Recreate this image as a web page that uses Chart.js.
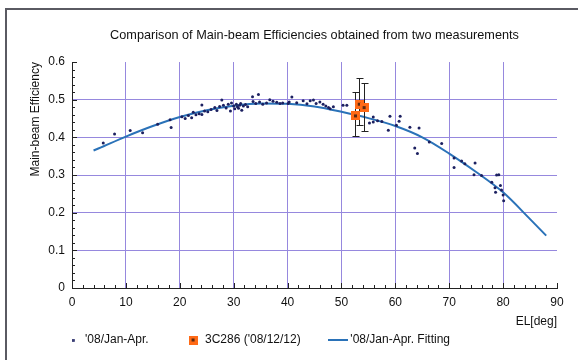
<!DOCTYPE html>
<html>
<head>
<meta charset="utf-8">
<script src="https://cdn.jsdelivr.net/npm/chart.js@4/dist/chart.umd.min.js"></script>
<style>
  body { margin: 0; background: #fff; }
  #wrap { position: relative; width: 578px; height: 360px; overflow: hidden; }
  #frame { position: absolute; left: 5px; top: 8px; width: 700px; height: 500px; border: 2px solid #5a5a62; }
  #chart { position: absolute; left: 0; top: 0; }
</style>
</head>
<body>
<div id="wrap">
  <div id="frame"></div>
  <canvas id="chart" width="578" height="360"></canvas>
</div>
<script>
// '08/Jan-Apr. measurements (EL in deg, efficiency)
var measEl = [5.8, 7.9, 10.8, 13.1, 15.9, 18.4, 18.2, 20.4, 21.0, 21.6, 22.2, 22.5, 23.0, 23.6, 24.1, 24.1,
  24.6, 25.2, 25.8, 26.5, 26.9, 27.4, 27.8, 28.1, 28.6, 29.0, 29.4, 29.6, 30.0, 30.2, 30.5, 30.7,
  30.9, 31.1, 31.3, 31.5, 31.8, 32.2, 32.6, 33.5, 33.6, 34.1, 34.6, 34.8, 35.4, 36.1, 36.7, 37.3,
  38.0, 38.6, 39.1, 40.1, 40.3, 40.8, 41.7, 42.9, 43.6, 44.2, 44.8, 45.3, 46.0, 46.6, 47.1, 47.6,
  47.9, 48.5, 50.3, 51.0, 55.2, 55.9, 55.9, 56.7, 57.5, 59.0, 58.7, 60.7, 60.9, 60.2, 62.7, 64.4,
  63.6, 64.1, 66.3, 68.6, 70.9, 70.9, 72.3, 72.9, 74.8, 74.6, 76.0, 77.9, 78.8, 79.2, 78.5, 79.7,
  78.6, 80.0, 80.1, 79.5];
var measEff = [0.385, 0.409, 0.418, 0.412, 0.435, 0.426, 0.447, 0.455, 0.450, 0.458, 0.452, 0.467, 0.460, 0.463, 0.486, 0.461,
  0.470, 0.468, 0.474, 0.479, 0.471, 0.482, 0.499, 0.485, 0.478, 0.488, 0.470, 0.491, 0.483, 0.476, 0.488, 0.481,
  0.477, 0.485, 0.490, 0.472, 0.483, 0.487, 0.481, 0.508, 0.495, 0.490, 0.514, 0.494, 0.488, 0.491, 0.500, 0.496,
  0.493, 0.490, 0.491, 0.490, 0.494, 0.507, 0.492, 0.497, 0.489, 0.497, 0.499, 0.490, 0.494, 0.488, 0.483, 0.479,
  0.476, 0.481, 0.485, 0.485, 0.438, 0.454, 0.441, 0.444, 0.442, 0.456, 0.419, 0.443, 0.456, 0.432, 0.427, 0.425,
  0.372, 0.357, 0.388, 0.384, 0.345, 0.320, 0.337, 0.330, 0.332, 0.301, 0.299, 0.281, 0.300, 0.301, 0.266, 0.260,
  0.254, 0.247, 0.232, 0.272];

// 3C286 ('08/12/12) with error bars
var srcEl = [52.6, 53.3, 54.2];
var srcEff = [0.457, 0.488, 0.479];
var srcLow = [0.403, 0.432, 0.416];
var srcHigh = [0.521, 0.557, 0.545];

// fitting curve
var fitEl = [4, 5, 10, 15, 20, 25, 30, 35, 40, 45, 50, 55, 60, 65, 70, 75, 80, 85, 88];
var fitEff = [0.365, 0.371, 0.402, 0.430, 0.454, 0.472, 0.484, 0.490, 0.489, 0.482, 0.468, 0.451, 0.430, 0.400, 0.357, 0.308, 0.254, 0.183, 0.139];

var labels = ["'08/Jan-Apr.", "3C286 ('08/12/12)", "'08/Jan-Apr. Fitting"];
var legendGap = [10, 8, 0];   // extra spaces after each legend entry

var gridColor = 'rgb(150,136,222)';
var axisColor = '#222';

function marker(w, h, draw) {
  var c = document.createElement('canvas');
  c.width = w; c.height = h;
  draw(c.getContext('2d'));
  return c;
}
var squareMark = marker(9, 9, function (g) {
  g.fillStyle = '#ff6a16'; g.fillRect(0, 0, 9, 9);
  g.fillStyle = '#5a2a12'; g.fillRect(3, 3, 3, 3);
});
var dotMark = marker(3, 3, function (g) {
  g.fillStyle = '#1c2060'; g.beginPath(); g.arc(1.5, 1.5, 1.5, 0, Math.PI * 2); g.fill();
});
var lineMark = marker(20, 2, function (g) {
  g.fillStyle = '#2a72b8'; g.fillRect(0, 0, 20, 2);
});
var legendMarks = [dotMark, squareMark, lineMark];

function pts(xs, ys) {
  return xs.map(function (v, i) { return { x: v, y: ys[i] }; });
}

// short tick marks pointing into the plot, like the Excel original
var innerTicks = {
  id: 'innerTicks',
  afterDatasetsDraw: function (chart) {
    var ctx = chart.ctx, a = chart.chartArea, x = chart.scales.x, y = chart.scales.y;
    ctx.save();
    ctx.strokeStyle = axisColor;
    ctx.lineWidth = 1;
    ctx.beginPath();
    for (var v = 0; v <= 90; v += 2) {
      var px = Math.round(x.getPixelForValue(v)) + 0.5;
      ctx.moveTo(px, a.bottom);
      ctx.lineTo(px, a.bottom - (v % 10 === 0 ? 5 : 3));
    }
    for (var i = 0; i <= 30; i++) {
      var py = Math.round(y.getPixelForValue(i * 0.02)) + 0.5;
      ctx.moveTo(a.left, py);
      ctx.lineTo(a.left + (i % 5 === 0 ? 5 : 3), py);
    }
    ctx.stroke();
    ctx.restore();
  }
};

var errorBars = {
  id: 'errorBars',
  beforeDatasetDraw: function (chart, args) {
    if (args.index !== 1) return;
    var ctx = chart.ctx, x = chart.scales.x, y = chart.scales.y;
    ctx.save();
    ctx.strokeStyle = '#222';
    ctx.lineWidth = 1;
    srcEl.forEach(function (el, i) {
      var px = Math.round(x.getPixelForValue(el)) + 0.5;
      var top = Math.round(y.getPixelForValue(srcHigh[i])) + 0.5;
      var bot = Math.round(y.getPixelForValue(srcLow[i])) + 0.5;
      ctx.beginPath();
      ctx.moveTo(px, top); ctx.lineTo(px, bot);
      ctx.moveTo(px - 3, top); ctx.lineTo(px + 4, top);
      ctx.moveTo(px - 3, bot); ctx.lineTo(px + 4, bot);
      ctx.stroke();
    });
    ctx.restore();
  }
};

// legend starts under the plot like in Excel
var legendShift = {
  id: 'legendShift',
  afterLayout: function (chart) {
    chart.legend.left = chart.chartArea.left - 10;
  }
};

Chart.defaults.font.family = "'Liberation Sans', Arial, sans-serif";
Chart.defaults.font.size = 12;
Chart.defaults.color = '#111';

var ctx = document.getElementById('chart').getContext('2d');
var myChart = new Chart(ctx, {
  type: 'scatter',
  data: {
    datasets: [{
      label: labels[0],
      data: pts(measEl, measEff),
      backgroundColor: '#1c2060',
      borderWidth: 0,
      pointRadius: 1.5,
      order: 1
    }, {
      label: labels[1],
      data: pts(srcEl, srcEff),
      pointStyle: squareMark,
      backgroundColor: '#ff6a16',
      order: 0
    }, {
      label: labels[2],
      data: pts(fitEl, fitEff),
      showLine: true,
      borderColor: '#2a72b8',
      borderWidth: 2,
      pointRadius: 0,
      cubicInterpolationMode: 'monotone',
      order: 2
    }]
  },
  options: {
    responsive: false,
    animation: false,
    layout: { padding: { left: 28, right: 21, top: 0, bottom: 4 } },
    plugins: {
      title: {
        display: true,
        fullSize: false,
        text: 'Comparison of Main-beam Efficiencies obtained from two measurements',
        font: { size: 12.7, weight: 'normal' },
        color: '#111',
        padding: { top: 28, bottom: 18.8 }
      },
      legend: {
        position: 'bottom',
        align: 'start',
        labels: {
          usePointStyle: true,
          padding: 5,
          color: '#111',
          generateLabels: function (chart) {
            var items = Chart.defaults.plugins.legend.labels.generateLabels(chart);
            items.sort(function (a, b) { return a.datasetIndex - b.datasetIndex; });
            items.forEach(function (it) {
              var i = it.datasetIndex;
              it.pointStyle = legendMarks[i];
              it.text = it.text + ' '.repeat(legendGap[i]);
            });
            return items;
          }
        }
      },
      tooltip: { enabled: false }
    },
    scales: {
      x: {
        type: 'linear',
        min: 0,
        max: 90,
        afterFit: function (s) { s.height = 41; },
        ticks: { stepSize: 10, padding: 7, color: '#111' },
        grid: {
          drawTicks: false,
          color: function (c) { return (c.tick && (c.tick.value === 0 || c.tick.value === 90)) ? 'rgba(0,0,0,0)' : gridColor; }
        },
        border: { color: axisColor, width: 1 },
        title: { display: true, text: 'EL[deg]', align: 'end', padding: { top: 0, bottom: 0 }, color: '#111' }
      },
      y: {
        min: 0,
        max: 0.6,
        afterFit: function (s) { s.width = 44; },
        ticks: { stepSize: 0.1, padding: 7, color: '#111' },
        grid: {
          drawTicks: false,
          color: function (c) { return (c.tick && (c.tick.value < 0.01 || c.tick.value > 0.59)) ? 'rgba(0,0,0,0)' : gridColor; }
        },
        border: { color: axisColor, width: 1 },
        title: { display: true, text: 'Main-beam Efficiency', align: 'end', padding: { top: 0, bottom: 0 }, color: '#111' }
      }
    }
  },
  plugins: [innerTicks, errorBars, legendShift]
});
</script>
</body>
</html>
